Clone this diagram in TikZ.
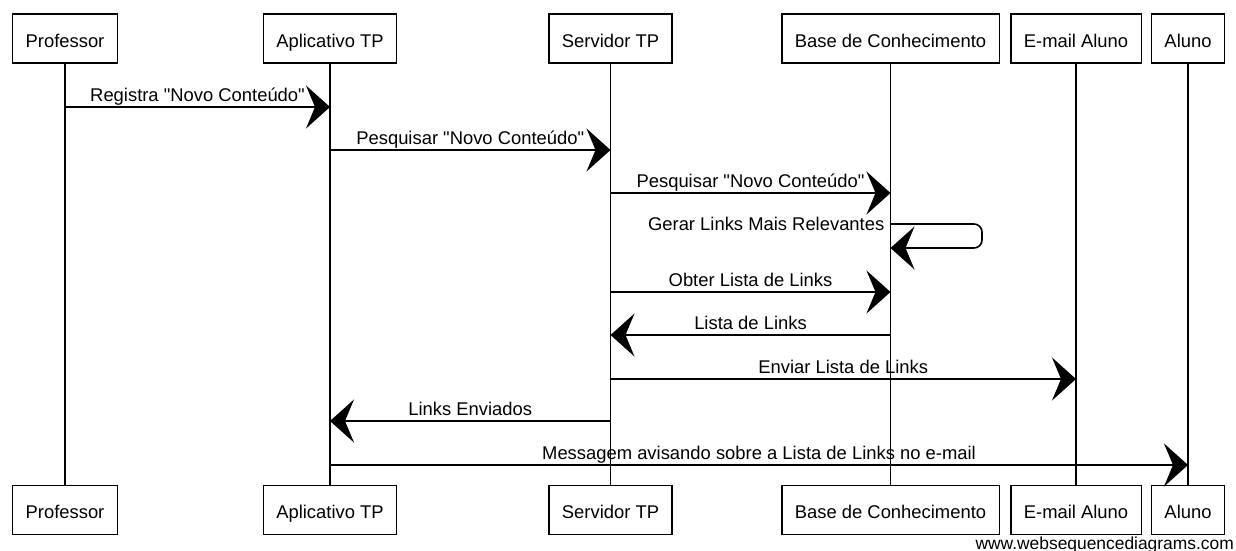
\documentclass[tikz,border=0pt]{standalone}
\usepackage{fontspec}
\setmainfont{Liberation Sans}
\usepackage{tikz}
\usetikzlibrary{arrows.meta}
\usetikzlibrary{positioning}

\begin{document}
\begin{tikzpicture}[x=1pt,y=-1pt,
	actor node/.style={draw,fill=white,line width=1.3pt,inner xsep=13pt,
		text height=18pt,text depth=0pt,minimum height=49pt,
		font=\fontsize{18.4}{22}\selectfont},
	life line/.style={line width=1.1pt},
	msg/.style={line width=1.6pt,-{Stealth[length=24pt,width=43pt,inset=9pt]}},
	msg label/.style={above,inner sep=1pt,text depth=4pt,
		font=\fontsize{18.4}{22}\selectfont}]
	
	\useasboundingbox (0,0) rectangle (1236,551);
	
	% rows of the messages
	\foreach \n/\y in {1/107,2/150,3/193,4/224,5/248,6/292,7/335,8/379,9/421,10/465}
		\coordinate (r\n) at (0,\y);
	\coordinate (loop) at (982,0);
	
	% participants, top
	\node[actor node] (prof) at (65,38.5) {Professor};
	\node[actor node] (apl) at (330,38.5) {Aplicativo TP};
	\node[actor node] (serv) at (610.5,38.5) {Servidor TP};
	\node[actor node] (base) at (890.5,38.5) {Base de Conhecimento};
	\node[actor node] (mail) at (1076,38.5) {E-mail Aluno};
	\node[actor node] (aluno) at (1188,38.5) {Aluno};
	
	% participants, bottom
	\node[actor node] (prof2) [below=421pt of prof] {Professor};
	\node[actor node] (apl2) [below=421pt of apl] {Aplicativo TP};
	\node[actor node] (serv2) [below=421pt of serv] {Servidor TP};
	\node[actor node] (base2) [below=421pt of base] {Base de Conhecimento};
	\node[actor node] (mail2) [below=421pt of mail] {E-mail Aluno};
	\node[actor node] (aluno2) [below=421pt of aluno] {Aluno};
	
	% lifelines
	\foreach \p in {prof,apl,serv,base,mail,aluno}
		\draw[life line] (\p) -- (\p2);
	
	% messages
	\draw[msg] (prof |- r1) -- node[msg label] {Registra \textquotedbl Novo Conteúdo\textquotedbl} (apl |- r1);
	\draw[msg] (apl |- r2) -- node[msg label] {Pesquisar \textquotedbl Novo Conteúdo\textquotedbl} (serv |- r2);
	\draw[msg] (serv |- r3) -- node[msg label] {Pesquisar \textquotedbl Novo Conteúdo\textquotedbl} (base |- r3);
	\draw[msg,rounded corners=8pt] (base |- r4) -- (loop |- r4) -- (loop |- r5) -- (base |- r5);
	\node[anchor=east,inner sep=0pt,xshift=-6pt,font=\fontsize{18.4}{22}\selectfont]
		(gerar) at (base |- r4) {Gerar Links Mais Relevantes};
	\draw[msg] (serv |- r6) -- node[msg label] {Obter Lista de Links} (base |- r6);
	\draw[msg] (base |- r7) -- node[msg label] {Lista de Links} (serv |- r7);
	\draw[msg] (serv |- r8) -- node[msg label] {Enviar Lista de Links} (mail |- r8);
	\draw[msg] (serv |- r9) -- node[msg label] {Links Enviados} (apl |- r9);
	\draw[msg] (apl |- r10) -- node[msg label] {Messagem avisando sobre a Lista de Links no e-mail} (aluno |- r10);
	
	\node[anchor=base east,inner sep=0pt,font=\fontsize{17.4}{20}\selectfont]
		(wsd) at (1234,549) {www.websequencediagrams.com};
\end{tikzpicture}
\end{document}
